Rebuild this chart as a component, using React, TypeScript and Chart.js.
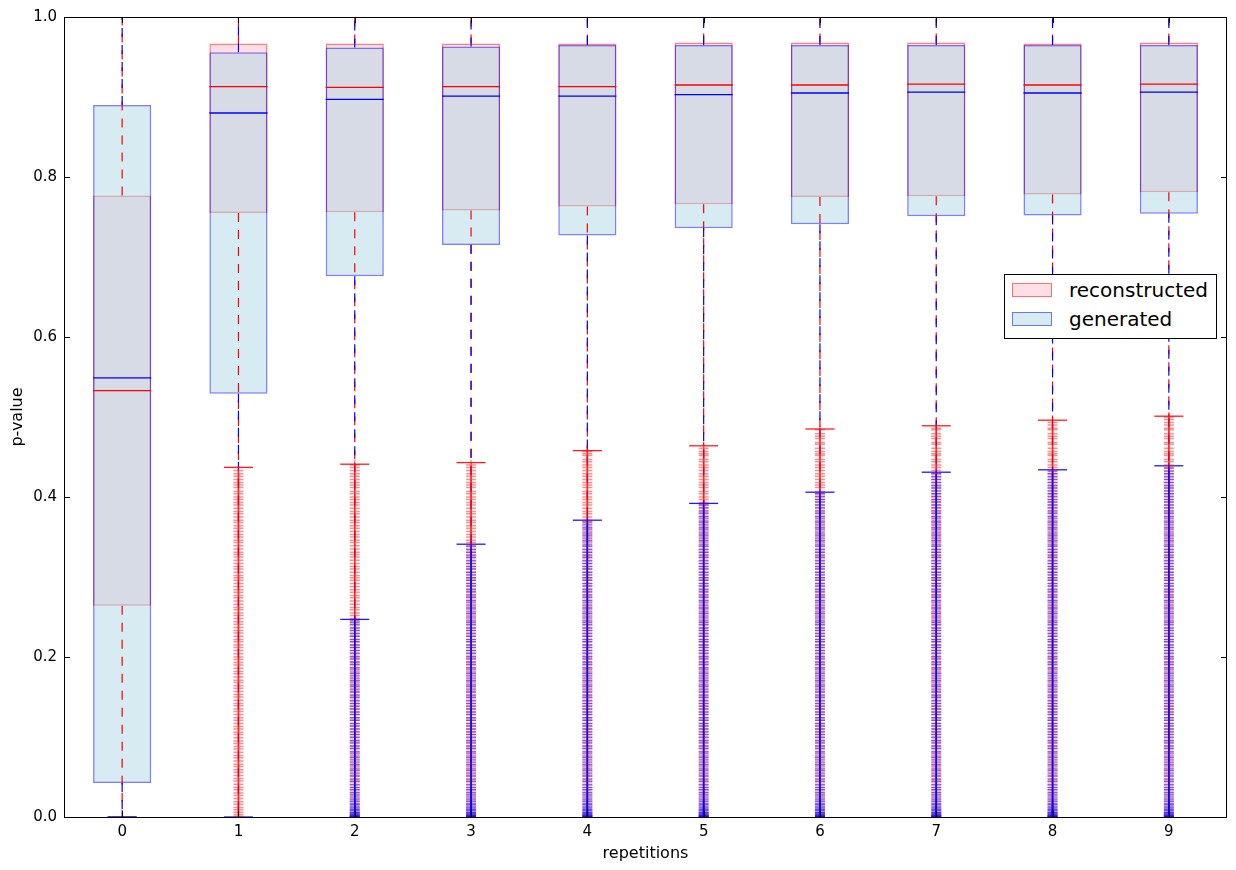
import React, { useEffect, useRef } from 'react';
import { Chart, registerables } from 'chart.js';

Chart.register(...registerables);

const FONT = '"DejaVu Sans", Verdana, sans-serif';

// boxplot stats, one entry per repetition
const repetitions = [0, 1, 2, 3, 4, 5, 6, 7, 8, 9];

const reconQ1 = [0.264, 0.755, 0.756, 0.758, 0.763, 0.766, 0.775, 0.776, 0.778, 0.781];
const reconMedian = [0.533, 0.913, 0.912, 0.913, 0.913, 0.915, 0.915, 0.916, 0.915, 0.916];
const reconQ3 = [0.777, 0.967, 0.967, 0.967, 0.967, 0.968, 0.968, 0.968, 0.967, 0.968];
const reconLow = [0.0, 0.437, 0.441, 0.443, 0.458, 0.464, 0.485, 0.489, 0.496, 0.501];
const reconHigh = [1, 1, 1, 1, 1, 1, 1, 1, 1, 1];

const genQ1 = [0.0425, 0.529, 0.676, 0.715, 0.727, 0.736, 0.741, 0.751, 0.752, 0.754];
const genMedian = [0.549, 0.88, 0.897, 0.901, 0.901, 0.903, 0.905, 0.906, 0.905, 0.906];
const genQ3 = [0.89, 0.956, 0.962, 0.963, 0.965, 0.965, 0.965, 0.965, 0.965, 0.965];
const genLow = [0.0, 0.0, 0.247, 0.341, 0.371, 0.392, 0.406, 0.431, 0.434, 0.439];
const genHigh = [1, 1, 1, 1, 1, 1, 1, 1, 1, 1];

// low p-values seen below the whiskers (each group shows the ones under its lower whisker)
const reconOutliers = [
  0.5, 0.497, 0.493, 0.49, 0.486, 0.484, 0.479, 0.476, 0.473, 0.468, 0.466, 0.461, 0.457, 0.454,
  0.452, 0.447, 0.444, 0.44, 0.437, 0.433, 0.429, 0.426, 0.422, 0.418, 0.415, 0.412, 0.407, 0.404,
  0.4, 0.397, 0.393, 0.39, 0.386, 0.382, 0.379, 0.375, 0.371, 0.368, 0.364, 0.361, 0.357, 0.353,
  0.35, 0.346, 0.343, 0.339, 0.335, 0.331, 0.328, 0.325, 0.321, 0.317, 0.313, 0.31, 0.306, 0.302,
  0.299, 0.296, 0.292, 0.288, 0.284, 0.281, 0.277, 0.274, 0.27, 0.266, 0.262, 0.259, 0.255, 0.252,
  0.248, 0.244, 0.241, 0.237, 0.233, 0.23, 0.226, 0.222, 0.219, 0.215, 0.212, 0.208, 0.204, 0.2,
  0.197, 0.193, 0.19, 0.186, 0.182, 0.179, 0.175, 0.171, 0.168, 0.164, 0.161, 0.157, 0.153, 0.15,
  0.146, 0.142, 0.139, 0.135, 0.132, 0.128, 0.124, 0.121, 0.117, 0.113, 0.11, 0.106, 0.103, 0.099,
  0.095, 0.092, 0.088, 0.085, 0.081, 0.077, 0.074, 0.07, 0.066, 0.063, 0.059, 0.056, 0.052, 0.048,
  0.045, 0.041, 0.037, 0.034, 0.03, 0.027, 0.023, 0.019, 0.016, 0.012, 0.009, 0.006, 0.003, 0.001,
];
const genOutliers = [
  0.439, 0.436, 0.432, 0.429, 0.425, 0.422, 0.418, 0.414, 0.411, 0.408, 0.404, 0.401, 0.397, 0.394,
  0.39, 0.387, 0.383, 0.38, 0.376, 0.373, 0.369, 0.366, 0.362, 0.359, 0.355, 0.352, 0.348, 0.345,
  0.341, 0.338, 0.334, 0.331, 0.327, 0.324, 0.32, 0.317, 0.313, 0.31, 0.306, 0.303, 0.299, 0.296,
  0.292, 0.289, 0.285, 0.282, 0.278, 0.275, 0.271, 0.268, 0.264, 0.261, 0.257, 0.254, 0.25, 0.246,
  0.243, 0.24, 0.236, 0.233, 0.229, 0.226, 0.222, 0.219, 0.215, 0.212, 0.208, 0.205, 0.201, 0.198,
  0.194, 0.191, 0.187, 0.184, 0.18, 0.177, 0.173, 0.17, 0.166, 0.163, 0.159, 0.156, 0.152, 0.149,
  0.145, 0.142, 0.138, 0.135, 0.131, 0.128, 0.124, 0.121, 0.117, 0.114, 0.11, 0.107, 0.103, 0.1,
  0.096, 0.093, 0.089, 0.086, 0.082, 0.079, 0.075, 0.072, 0.068, 0.065, 0.061, 0.058, 0.054, 0.051,
  0.047, 0.044, 0.04, 0.037, 0.034, 0.031, 0.028, 0.025, 0.022, 0.02, 0.017, 0.015, 0.013, 0.011,
  0.009, 0.008, 0.006, 0.005, 0.004, 0.003, 0.002, 0.0015, 0.001, 0.0005, 0.0002,
];

const yTicks = [0, 0.2, 0.4, 0.6, 0.8, 1.0];

const boxData = (q1: number[], q3: number[]) =>
  repetitions.map((x, i) => ({ x, y: [q1[i], q3[i]] }));

const whiskerData = (q1: number[], q3: number[], low: number[], high: number[]) =>
  repetitions.flatMap((x, i) => [
    { x, y: q1[i] }, { x, y: low[i] }, { x, y: null },
    { x, y: q3[i] }, { x, y: high[i] }, { x, y: null },
  ]);

const capData = (low: number[], high: number[]) =>
  repetitions.flatMap((x, i) => [{ x, y: low[i] }, { x, y: high[i] }]);

const medianData = (med: number[]) => repetitions.map((x, i) => ({ x, y: med[i] }));

const flierData = (pool: number[], low: number[]) =>
  repetitions.flatMap((x, i) => pool.filter((v) => v < low[i]).map((v) => ({ x, y: v })));

// half of a width given in x units, in pixels
const halfWidth = (units: number) => (ctx: any) => {
  const s = ctx.chart.scales.x;
  return Math.abs(s.getPixelForValue(units) - s.getPixelForValue(0));
};

const frameAndTicks = {
  id: 'frameAndTicks',
  afterDraw(chart: any) {
    const { ctx, chartArea, scales } = chart;
    const { left, right, top, bottom } = chartArea;
    ctx.save();
    ctx.strokeStyle = '#000';
    ctx.lineWidth = 1;
    ctx.beginPath();
    scales.x.ticks.forEach((t: any) => {
      const px = Math.round(scales.x.getPixelForValue(t.value)) + 0.5;
      ctx.moveTo(px, bottom);
      ctx.lineTo(px, bottom - 6);
      ctx.moveTo(px, top);
      ctx.lineTo(px, top + 6);
    });
    scales.y.ticks.forEach((t: any) => {
      const py = Math.round(scales.y.getPixelForValue(t.value)) + 0.5;
      ctx.moveTo(left, py);
      ctx.lineTo(left + 6, py);
      ctx.moveTo(right, py);
      ctx.lineTo(right - 6, py);
    });
    ctx.stroke();
    ctx.strokeRect(left + 0.5, top + 0.5, right - left - 1, bottom - top);
    ctx.restore();
  },
};

const BoxPlotChart: React.FC = () => {
  const canvasRef = useRef<HTMLCanvasElement | null>(null);

  useEffect(() => {
    document.body.style.margin = '0';
    const ctx = canvasRef.current?.getContext('2d');
    if (!ctx) return;

    const box = {
      type: 'bar' as const,
      borderWidth: 1.5,
      borderSkipped: false,
      barPercentage: 0.5,
      categoryPercentage: 1,
      grouped: false,
    };
    const whisker = {
      type: 'line' as const,
      borderWidth: 1.2,
      borderDash: [9, 8],
      pointRadius: 0,
      spanGaps: false,
    };
    const tick = {
      type: 'line' as const,
      showLine: false,
      pointStyle: 'line' as const,
      pointBorderWidth: 1.3,
    };
    const flier = {
      type: 'line' as const,
      showLine: false,
      pointStyle: 'cross' as const,
      pointRadius: 5,
      pointBorderWidth: 1.5,
    };

    const chart = new Chart(ctx, {
      type: 'bar',
      data: {
        datasets: [
          { ...box, label: 'reconstructed', data: boxData(reconQ1, reconQ3) as any,
            backgroundColor: 'rgba(255,192,203,0.5)', borderColor: 'rgba(255,0,0,0.5)', order: 10 },
          { ...box, label: 'generated', data: boxData(genQ1, genQ3) as any,
            backgroundColor: 'rgba(173,216,230,0.5)', borderColor: 'rgba(0,0,255,0.5)', order: 9 },
          { ...whisker, data: whiskerData(reconQ1, reconQ3, reconLow, reconHigh) as any,
            borderColor: '#ff0000', order: 8 },
          { ...whisker, data: whiskerData(genQ1, genQ3, genLow, genHigh) as any,
            borderColor: '#0000ff', order: 7 },
          { ...tick, data: capData(reconLow, reconHigh) as any, pointRadius: halfWidth(0.125),
            pointBorderColor: 'rgba(255,0,0,0.9)', order: 6 },
          { ...tick, data: capData(genLow, genHigh) as any, pointRadius: halfWidth(0.125),
            pointBorderColor: 'rgba(0,0,255,0.9)', order: 5 },
          { ...tick, data: medianData(reconMedian) as any, pointRadius: halfWidth(0.25),
            pointBorderColor: '#ff0000', order: 4 },
          { ...tick, data: medianData(genMedian) as any, pointRadius: halfWidth(0.25),
            pointBorderColor: '#0000ff', order: 3 },
          { ...flier, data: flierData(reconOutliers, reconLow) as any,
            pointBorderColor: 'rgba(255,0,0,0.45)', order: 2 },
          { ...flier, data: flierData(genOutliers, genLow) as any,
            pointBorderColor: 'rgba(0,0,255,0.45)', order: 1 },
        ] as any,
      },
      options: {
        responsive: false,
        animation: false,
        events: [],
        layout: { padding: { left: 0, right: 9, top: 17, bottom: 0 } },
        plugins: { legend: { display: false }, tooltip: { enabled: false } },
        scales: {
          x: {
            type: 'linear',
            min: -0.5,
            max: 9.5,
            offset: false,
            grid: { display: false, drawTicks: false },
            border: { display: false },
            afterBuildTicks: (s: any) => {
              s.ticks = repetitions.map((v) => ({ value: v }));
            },
            afterFit: (s: any) => {
              s.height = 53;
            },
            ticks: {
              color: '#000',
              font: { family: FONT, size: 15 },
              padding: 6,
              maxRotation: 0,
              autoSkip: false,
              callback: (v: any) => String(v),
            },
            title: {
              display: true,
              text: 'repetitions',
              color: '#000',
              font: { family: FONT, size: 16 },
              padding: { top: 0, bottom: 7 },
            },
          },
          y: {
            type: 'linear',
            min: 0,
            max: 1,
            grid: { display: false, drawTicks: false },
            border: { display: false },
            afterBuildTicks: (s: any) => {
              s.ticks = yTicks.map((v) => ({ value: v }));
            },
            afterFit: (s: any) => {
              s.width = 64;
            },
            ticks: {
              color: '#000',
              font: { family: FONT, size: 15 },
              padding: 7,
              callback: (v: any) => Number(v).toFixed(1),
            },
            title: {
              display: true,
              text: 'p-value',
              color: '#000',
              font: { family: FONT, size: 16 },
              padding: { top: 8, bottom: 0 },
            },
          },
        },
      } as any,
      plugins: [frameAndTicks],
    });

    return () => {
      chart.destroy();
    };
  }, []);

  const patch = (fill: string, edge: string, top: number) => ({
    position: 'absolute' as const,
    left: 7,
    top,
    width: 40,
    height: 14,
    boxSizing: 'border-box' as const,
    background: fill,
    border: `1.5px solid ${edge}`,
  });
  const label = (top: number) => ({
    position: 'absolute' as const,
    left: 64,
    top,
    lineHeight: '22px',
    whiteSpace: 'nowrap' as const,
  });

  return (
    <div style={{ position: 'relative', width: 1236, height: 870 }}>
      <canvas ref={canvasRef} width={1236} height={870} style={{ display: 'block' }} />
      <div
        style={{
          position: 'absolute',
          left: 1004,
          top: 274,
          width: 213,
          height: 65,
          boxSizing: 'border-box',
          border: '1px solid #000',
          background: '#fff',
          fontFamily: FONT,
          fontSize: 20,
          color: '#000',
        }}
      >
        <div style={patch('rgba(255,192,203,0.5)', 'rgba(255,0,0,0.5)', 8)} />
        <div style={label(4)}>reconstructed</div>
        <div style={patch('rgba(173,216,230,0.5)', 'rgba(0,0,255,0.5)', 37)} />
        <div style={label(33)}>generated</div>
      </div>
    </div>
  );
};

export default function App() {
  return <BoxPlotChart />;
}
